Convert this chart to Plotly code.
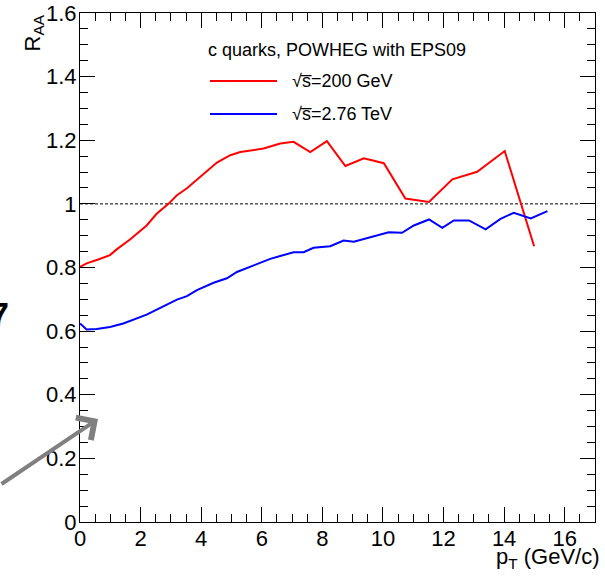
import plotly.graph_objects as go

# ---- data ----
red_x = [0, 0.22, 0.6, 0.99, 1.21, 1.65, 2.2, 2.53, 2.92, 3.2, 3.53, 4.19, 4.52, 4.96, 5.29,
         6.06, 6.61, 7.05, 7.6, 8.15, 8.76, 9.37, 10.03, 10.74, 11.52, 12.29, 13.11, 14.02, 14.99]
red_y = [0.802, 0.813, 0.825, 0.839, 0.857, 0.888, 0.932, 0.969, 1.0, 1.027, 1.049, 1.103, 1.13,
         1.153, 1.163, 1.174, 1.19, 1.195, 1.163, 1.197, 1.119, 1.143, 1.128, 1.017, 1.006, 1.077,
         1.101, 1.166, 0.867]

blue_x = [0, 0.22, 0.55, 0.99, 1.43, 1.76, 2.2, 2.75, 3.2, 3.53, 3.86, 4.41, 4.85, 5.18, 5.73,
          6.28, 6.61, 7.05, 7.38, 7.71, 8.26, 8.7, 9.04, 9.48, 10.19, 10.63, 11.02, 11.52, 11.96,
          12.34, 12.84, 13.39, 13.88, 14.32, 14.88, 15.43]
blue_y = [0.624, 0.605, 0.607, 0.613, 0.624, 0.636, 0.652, 0.678, 0.699, 0.71, 0.729, 0.752,
          0.766, 0.786, 0.807, 0.827, 0.836, 0.848, 0.848, 0.862, 0.867, 0.885, 0.881, 0.893,
          0.911, 0.909, 0.932, 0.951, 0.925, 0.948, 0.948, 0.92, 0.953, 0.972, 0.954, 0.977]

x_tickvals = [0, 2, 4, 6, 8, 10, 12, 14, 16]
x_ticktext = ["0", "2", "4", "6", "8", "10", "12", "14", "16"]
y_tickvals = [0, 0.2, 0.4, 0.6, 0.8, 1.0, 1.2, 1.4, 1.6]
y_ticktext = ["0", "0.2", "0.4", "0.6", "0.8", "1", "1.2", "1.4", "1.6"]

legend_title = "c quarks, POWHEG with EPS09"
red_name = "√s\u0305=200 GeV"
blue_name = "√s\u0305=2.76 TeV"

FONT = "Liberation Sans, Arial, Helvetica, sans-serif"

fig = go.Figure()
fig.add_trace(go.Scatter(x=red_x, y=red_y, mode="lines", name="√s=200 GeV",
                         line=dict(color="#ff0000", width=2), showlegend=False))
fig.add_trace(go.Scatter(x=blue_x, y=blue_y, mode="lines", name="√s=2.76 TeV",
                         line=dict(color="#0000ff", width=2), showlegend=False))

# reference line at R_AA = 1
fig.add_shape(type="line", xref="x", yref="y", x0=0, x1=16.5, y0=1, y1=1,
              line=dict(color="black", width=1, dash="3px,2px"), layer="below")

W, H = 605, 577
L, R, T, B = 80, 10, 13, 55
pw, ph = W - L - R, H - T - B


def px(xp):
    return (xp - L) / pw


def py(yp):
    return (H - B - yp) / ph


# manual legend
fig.add_annotation(xref="paper", yref="paper", x=px(337), y=py(50), text=legend_title,
                   showarrow=False, xanchor="center", yanchor="middle",
                   font=dict(family=FONT, size=18, color="black"))
for yy, col, txt in [(81, "#ff0000", red_name), (114, "#0000ff", blue_name)]:
    fig.add_shape(type="line", xref="paper", yref="paper", x0=px(210), x1=px(277),
                  y0=py(yy), y1=py(yy), line=dict(color=col, width=2))
    fig.add_annotation(xref="paper", yref="paper", x=px(290), y=py(yy), text=txt,
                       showarrow=False, xanchor="left", yanchor="middle",
                       font=dict(family=FONT, size=18, color="black"))

# axis titles
fig.add_annotation(xref="paper", yref="paper", x=px(602), y=py(558),
                   text="p<sub>T</sub> (GeV/c)", showarrow=False,
                   xanchor="right", yanchor="middle",
                   font=dict(family=FONT, size=22, color="black"))
fig.add_annotation(xref="paper", yref="paper", x=px(33), y=py(13),
                   text="R<sub>AA</sub>", showarrow=False, textangle=-90,
                   xanchor="center", yanchor="top",
                   font=dict(family=FONT, size=22, color="black"))

# slide artifacts: gray arrow and a partially visible glyph
fig.add_annotation(xref="paper", yref="paper", x=px(98), y=py(419), ax=-100, ay=66,
                   text="", showarrow=True, arrowhead=4, arrowsize=1.3, arrowwidth=4,
                   arrowcolor="#808080", standoff=0)
fig.add_annotation(xref="paper", yref="paper", x=px(11), y=py(314), text="<b>7</b>",
                   showarrow=False, xanchor="right", yanchor="middle",
                   font=dict(family=FONT, size=34, color="black"))

axis_common = dict(showline=True, linecolor="black", linewidth=1, mirror="allticks",
                   ticks="inside", ticklen=15, tickwidth=1, tickcolor="black",
                   showgrid=False, zeroline=False, automargin=False,
                   tickfont=dict(family=FONT, size=22, color="black"))

fig.update_xaxes(range=[0, 17], tickvals=x_tickvals, ticktext=x_ticktext,
                 ticklabelstandoff=-3,
                 minor=dict(ticks="inside", ticklen=8, dtick=0.5, tick0=0,
                            tickcolor="black", tickwidth=1, showgrid=False),
                 **axis_common)
fig.update_yaxes(range=[0, 1.6], tickvals=y_tickvals, ticktext=y_ticktext,
                 ticklabelstandoff=-2,
                 minor=dict(ticks="inside", ticklen=8, dtick=0.05, tick0=0,
                            tickcolor="black", tickwidth=1, showgrid=False),
                 **axis_common)

fig.update_layout(width=W, height=H, margin=dict(l=L, r=R, t=T, b=B, autoexpand=False),
                  paper_bgcolor="white", plot_bgcolor="white",
                  font=dict(family=FONT, color="black"))

fig.write_html("out.html", config={"displayModeBar": False},
               post_script="document.body.style.margin='0';document.body.style.overflow='hidden';")
